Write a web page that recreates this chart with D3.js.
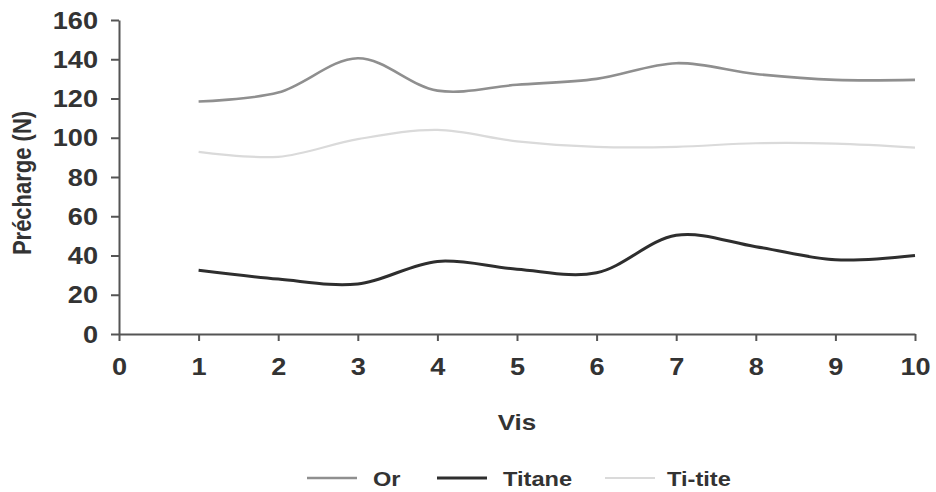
<!DOCTYPE html>
<html>
<head>
<meta charset="utf-8">
<script src="https://cdn.jsdelivr.net/npm/d3@7"></script>
<style>
  body { margin: 0; background: #fff; }
  text { font-family: "Liberation Sans", Arial, sans-serif; font-weight: bold; fill: #333; }
</style>
</head>
<body>
<svg id="chart" width="936" height="492"></svg>
<script>
// values
const vis = [1, 2, 3, 4, 5, 6, 7, 8, 9, 10];
const orValues = [118.5, 123, 140.5, 124, 127, 130, 138, 132.5, 129.5, 129.5];
const titaneValues = [32.5, 28, 25.5, 37, 33, 31.2, 50.3, 44.5, 37.8, 40];
const tiTiteValues = [92.8, 90.3, 99.3, 104, 98.2, 95.4, 95.4, 97.2, 97, 95];
const yTicks = [0, 20, 40, 60, 80, 100, 120, 140, 160];
const xTicks = [0, 1, 2, 3, 4, 5, 6, 7, 8, 9, 10];

const series = [
  { name: "Or", values: orValues, color: "#8f8f8f", width: 2.6 },
  { name: "Titane", values: titaneValues, color: "#2e2e2e", width: 3 },
  { name: "Ti-tite", values: tiTiteValues, color: "#dadada", width: 2.2 }
];

const svg = d3.select("#chart");
const stretch = 1.18; // text in the source is a bit wide

const x = d3.scaleLinear().domain([0, 10]).range([119, 915]);
const y = d3.scaleLinear().domain([0, 160]).range([334, 20]);

// y axis
const yAxis = svg.append("g").attr("transform", "translate(119,0)")
  .call(d3.axisLeft(y).tickValues(yTicks).tickSize(8).tickSizeOuter(0).tickFormat(d3.format("d")));
yAxis.select(".domain").attr("stroke", "#555").attr("stroke-width", 2);
yAxis.selectAll(".tick line").attr("stroke", "#555").attr("stroke-width", 2);
yAxis.selectAll(".tick text")
  .attr("x", null).attr("dy", null)
  .attr("text-anchor", "end")
  .attr("transform", `translate(-21,8) scale(${stretch},1)`)
  .style("font-size", "23px").style("font-family", null).attr("fill", "#3a3a3a");

// x axis
const xAxis = svg.append("g").attr("transform", "translate(0,334)")
  .call(d3.axisBottom(x).tickValues(xTicks).tickSize(7).tickSizeOuter(0).tickFormat(d3.format("d")));
xAxis.select(".domain").attr("stroke", "#555").attr("stroke-width", 2);
xAxis.selectAll(".tick line").attr("stroke", "#555").attr("stroke-width", 2);
xAxis.selectAll(".tick text")
  .attr("y", null).attr("dy", null)
  .attr("transform", `translate(0,41) scale(${stretch},1)`)
  .style("font-size", "23px").style("font-family", null).attr("fill", "#3a3a3a");

// axis titles
svg.append("text")
  .attr("transform", `translate(31,183) rotate(-90) scale(1,${stretch})`)
  .attr("text-anchor", "middle")
  .style("font-size", "22px")
  .text("Précharge (N)");

svg.append("text")
  .attr("transform", `translate(517,430) scale(${stretch},1)`)
  .attr("text-anchor", "middle")
  .style("font-size", "22px")
  .text("Vis");

// lines
const line = d3.line()
  .x((d, i) => x(vis[i]))
  .y(d => y(d))
  .curve(d3.curveCatmullRom.alpha(0.5));

svg.selectAll(".serie")
  .data(series)
  .enter()
  .append("path")
  .attr("class", "serie")
  .attr("d", d => line(d.values))
  .attr("fill", "none")
  .attr("stroke", d => d.color)
  .attr("stroke-width", d => d.width)
  .attr("stroke-linejoin", "round");

// legend
const legendX = [307, 437, 605];
const legend = svg.selectAll(".legend")
  .data(series)
  .enter()
  .append("g")
  .attr("class", "legend")
  .attr("transform", (d, i) => `translate(${legendX[i]},478)`);
legend.append("line")
  .attr("x1", 0).attr("x2", 50)
  .attr("stroke", d => d.color)
  .attr("stroke-width", d => d.width);
legend.append("text")
  .attr("transform", (d, i) => `translate(${i === 2 ? 62 : 66},8) scale(${stretch},1)`)
  .style("font-size", "20px")
  .attr("fill", "#222")
  .text(d => d.name);
</script>
</body>
</html>
